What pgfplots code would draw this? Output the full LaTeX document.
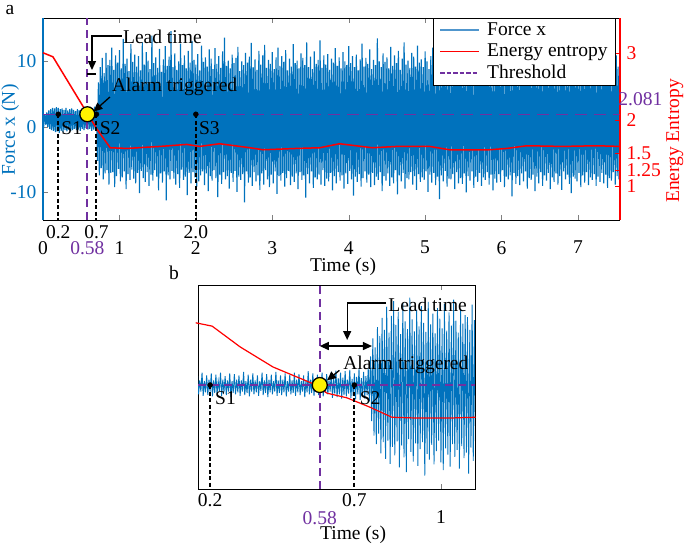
\documentclass[border=0pt]{standalone}
\usepackage{fontspec}
\setmainfont{Liberation Serif}
\usepackage{pgfplots}
\pgfplotsset{compat=1.18}
\usepackage{pgfplotstable}
\usetikzlibrary{arrows.meta}
\definecolor{mblue}{RGB}{0,114,189}
\definecolor{lblue}{RGB}{80,150,205}
\definecolor{mpurple}{RGB}{112,48,160}

% Force x, panel a (sampled every 0.0125 s from t = 0)
\pgfplotstableread[row sep=\\]{f\\
1.6\\ 0.5\\ 1.9\\ 0.3\\ 2.2\\ 0.0\\ 2.5\\ -0.3\\ 2.7\\ -0.5\\ 2.9\\ -0.6\\ 2.8\\ -0.8\\ 3.0\\ -0.7\\ 2.9\\ -0.9\\ 2.7\\ -0.6\\
2.8\\ -0.8\\ 2.6\\ -0.5\\ 2.9\\ -0.7\\ 2.5\\ -0.4\\ 2.7\\ -0.6\\ 2.8\\ -0.5\\ 2.6\\ -0.3\\ 2.4\\ -0.5\\ 2.7\\ -0.4\\ 2.5\\ -0.6\\
2.6\\ -0.3\\ 2.8\\ -0.5\\ 2.4\\ -0.2\\ 2.7\\ -0.4\\ 2.5\\ -0.3\\ 2.9\\ -0.6\\ 2.6\\ -0.4\\ 3.1\\ -0.5\\ 3.4\\
-5.2\\ 6.8\\ -7.4\\ 9.1\\ -6.3\\ 10.5\\ -8.0\\ 8.2\\ -7.1\\ 11.3\\ -6.6\\ 9.4\\ -8.8\\ 10.2\\ -7.0\\ 12.1\\ -6.9\\ 8.7\\ -9.2\\ 10.9\\
-7.5\\ 9.8\\ -6.4\\ 11.7\\ -8.3\\ 8.9\\ -7.7\\ 13.4\\ -6.8\\ 9.6\\ -9.5\\ 10.4\\ -7.2\\ 8.5\\ -8.1\\ 12.6\\ -6.5\\ 9.9\\ -7.9\\ 11.0\\
-8.6\\ 9.2\\ -7.0\\ 10.8\\ -10.1\\ 8.6\\ -6.7\\ 12.9\\ -7.8\\ 9.5\\ -8.4\\ 11.4\\ -6.9\\ 10.1\\ -9.0\\ 8.8\\ -7.3\\ 13.9\\ -8.2\\ 9.7\\
-6.6\\ 10.6\\ -7.6\\ 9.0\\ -9.7\\ 11.9\\ -7.1\\ 8.4\\ -8.5\\ 10.3\\ -6.8\\ 12.3\\ -11.2\\ 9.3\\ -7.4\\ 10.7\\ -8.0\\ 14.6\\ -6.7\\ 9.1\\
-7.9\\ 11.2\\ -8.8\\ 8.7\\ -7.2\\ 10.0\\ -9.3\\ 12.7\\ -6.5\\ 9.4\\ -8.1\\ 10.9\\ -7.6\\ 8.9\\ -10.4\\ 11.6\\ -7.0\\ 9.8\\ -8.6\\ 13.1\\
-6.9\\ 10.2\\ -7.7\\ 9.5\\ -9.1\\ 11.1\\ -8.3\\ 8.6\\ -7.4\\ 12.4\\ -6.8\\ 9.9\\ -8.9\\ 10.6\\ -7.1\\ 9.2\\ -9.8\\ 11.8\\ -7.5\\ 10.4\\
-8.2\\ 8.8\\ -6.6\\ 12.0\\ -7.8\\ 9.6\\ -10.7\\ 10.8\\ -7.3\\ 9.0\\ -8.7\\ 11.5\\ -6.9\\ 13.6\\ -8.0\\ 9.3\\ -7.5\\ 10.1\\ -9.4\\ 8.9\\
-7.0\\ 11.0\\ -8.4\\ 9.7\\ -6.7\\ 10.5\\ -9.9\\ 12.2\\ -7.6\\ 8.5\\ -8.1\\ 10.0\\ -7.2\\ 9.4\\ -11.5\\ 11.3\\ -6.8\\ 9.8\\ -8.5\\ 10.7\\
-7.7\\ 12.8\\ -9.0\\ 9.1\\ -6.9\\ 10.3\\ -8.3\\ 8.7\\ -7.4\\ 11.6\\ -9.6\\ 9.5\\ -7.1\\ 10.9\\ -8.8\\ 12.5\\ -6.6\\ 9.0\\ -8.0\\ 10.2\\
-9.2\\ 9.6\\ -7.3\\ 11.4\\ -8.6\\ 8.8\\ -6.8\\ 10.6\\ -10.2\\ 12.1\\ -7.5\\ 9.3\\ -8.2\\ 10.8\\ -7.0\\ 9.9\\ -9.1\\ 11.7\\ -7.8\\ 8.6\\
-6.7\\ 10.4\\ -8.9\\ 9.2\\ -7.6\\ 12.6\\ -8.4\\ 9.7\\ -7.1\\ 10.1\\ -9.5\\ 8.9\\ -6.9\\ 11.2\\ -8.1\\ 10.5\\ -7.4\\ 9.4\\ -10.8\\ 12.9\\
-7.2\\ 9.1\\ -8.6\\ 10.7\\ -6.8\\ 8.8\\ -9.3\\ 11.5\\ -7.7\\ 9.6\\ -8.0\\ 10.2\\ -7.3\\ 13.2\\ -8.8\\ 9.0\\ -6.6\\ 10.9\\ -9.0\\ 9.5\\
-7.9\\ 11.1\\ -8.3\\ 8.7\\ -7.0\\ 10.4\\ -9.7\\ 9.8\\ -7.5\\ 12.0\\ -8.6\\ 9.3\\ -6.9\\ 10.6\\ -8.2\\ 8.9\\ -7.4\\ 11.4\\ -9.4\\ 10.0\\
-7.1\\ 9.4\\ -8.7\\ 12.3\\ -6.7\\ 9.7\\ -8.0\\ 10.8\\ -10.5\\ 9.1\\ -7.6\\ 11.0\\ -8.4\\ 8.6\\ -7.2\\ 10.3\\ -9.1\\ 12.7\\ -7.8\\ 9.2\\
-6.8\\ 10.5\\ -8.5\\ 9.6\\ -7.3\\ 11.8\\ -9.2\\ 8.8\\ -7.0\\ 10.2\\ -8.9\\ 9.4\\ -7.6\\ 13.5\\ -8.1\\ 10.0\\ -6.9\\ 9.1\\ -9.8\\ 11.2\\
-7.5\\ 9.9\\ -8.2\\ 10.6\\ -7.1\\ 8.9\\ -9.0\\ 12.2\\ -7.7\\ 9.3\\ -8.6\\ 10.9\\ -6.6\\ 9.7\\ -10.3\\ 11.6\\ -7.4\\ 8.7\\ -8.3\\ 10.4\\
-7.0\\ 12.9\\ -9.4\\ 9.5\\ -7.8\\ 10.1\\ -8.0\\ 9.0\\ -6.9\\ 11.3\\ -8.8\\ 10.7\\ -7.5\\ 9.2\\ -9.6\\ 12.4\\ -7.2\\ 9.8\\ -8.4\\ 10.3\\
-7.7\\ 9.1\\ -8.1\\ 11.5\\ -6.8\\ 10.0\\ -9.9\\ 8.8\\ -7.3\\ 10.8\\ -8.5\\ 12.1\\ -7.0\\ 9.6\\ -8.9\\ 10.4\\ -7.6\\ 9.3\\ -11.0\\ 11.1\\
-7.4\\ 10.6\\ -8.3\\ 9.4\\ -6.7\\ 11.9\\ -9.1\\ 10.2\\ -7.9\\ 8.9\\ -8.0\\ 10.7\\ -7.2\\ 9.8\\ -9.5\\ 12.6\\ -6.9\\ 9.2\\ -8.6\\ 10.5\\
-7.8\\ 9.7\\ -8.7\\ 11.4\\ -7.1\\ 9.0\\ -10.0\\ 10.3\\ -7.5\\ 12.8\\ -8.2\\ 9.5\\ -6.8\\ 10.9\\ -9.3\\ 8.7\\ -7.6\\ 11.0\\ -8.4\\ 9.9\\
-7.0\\ 10.4\\ -9.0\\ 9.3\\ -7.7\\ 12.3\\ -8.1\\ 10.0\\ -6.9\\ 9.6\\ -8.8\\ 11.7\\ -7.3\\ 8.9\\ -9.7\\ 10.6\\ -7.9\\ 9.4\\ -8.5\\ 12.0\\
-7.2\\ 9.8\\ -8.4\\ 10.5\\ -6.6\\ 9.1\\ -9.2\\ 11.3\\ -7.6\\ 10.1\\ -8.0\\ 8.8\\ -7.4\\ 10.7\\ -10.6\\ 9.5\\ -7.0\\ 11.9\\ -8.7\\ 10.2\\
-7.5\\ 9.0\\ -8.9\\ 12.5\\ -7.1\\ 9.7\\ -8.3\\ 10.4\\ -6.8\\ 9.2\\ -9.4\\ 11.1\\ -7.8\\ 10.0\\ -8.1\\ 8.9\\ -7.3\\ 10.8\\ -9.8\\ 9.6\\
-7.6\\ 11.5\\ -8.6\\ 9.3\\ -6.9\\ 10.6\\ -9.0\\ 9.9\\ -7.4\\ 12.2\\ -8.2\\ 9.0\\ -7.0\\ 10.3\\ -9.5\\ 11.0\\ -7.7\\ 9.4\\ -8.4\\ 10.1\\
-7.1\\ 9.5\\ -8.8\\ 10.9\\ -7.5\\ 9.1\\ -9.6\\ 11.6\\ -6.8\\ 10.2\\ -8.0\\ 8.8\\ -7.3\\ 10.5\\ -8.7\\ 9.7\\ -10.1\\ 11.2\\ -7.6\\ 9.3\\
-7.9\\ 10.6\\ -8.3\\ 9.2\\ -7.0\\ 11.8\\ -9.2\\ 9.9\\ -7.4\\ 10.0\\ -8.5\\ 9.4\\ -6.9\\ 10.8\\ -8.9\\ 9.0\\ -7.7\\ 11.3\\ -8.1\\ 9.8\\
-7.2\\ 10.4\\ -9.0\\ 9.6\\ -7.6\\ 11.0\\ -8.4\\ 9.3\\
-7.0\\ 9.9\\ -8.6\\ 10.7\\ -7.3\\ 9.1\\ -9.3\\ 11.4\\ -7.8\\ 9.5\\ -8.2\\ 10.2\\ -6.9\\ 9.7\\ -8.8\\ 10.9\\ -7.5\\ 9.2\\ -8.0\\ 10.3\\
}\forceA

% Force x, panel b (sampled every 0.004 s from t = 0.156)
\pgfplotstableread[row sep=\\]{f\\
2.7\\ -0.2\\ 1.8\\ 0.2\\ 2.9\\ -0.4\\ 1.7\\ 0.1\\ 2.5\\ -0.3\\ 1.9\\ 0.2\\ 2.8\\ -0.5\\ 1.8\\ 0.0\\ 2.6\\ -0.2\\ 1.7\\ 0.3\\
2.9\\ -0.4\\ 1.9\\ 0.1\\ 2.4\\ -0.3\\ 1.8\\ 0.2\\ 2.8\\ -0.6\\ 1.7\\ 0.0\\ 2.7\\ -0.2\\ 1.9\\ 0.1\\ 2.5\\ -0.4\\ 1.8\\ 0.2\\
3.0\\ -0.3\\ 1.7\\ 0.0\\ 2.6\\ -0.5\\ 1.9\\ 0.2\\ 2.8\\ -0.2\\ 1.8\\ 0.1\\ 2.5\\ -0.4\\ 1.7\\ 0.3\\ 2.9\\ -0.3\\ 1.8\\ 0.0\\
2.7\\ -0.6\\ 1.9\\ 0.1\\ 2.6\\ -0.2\\ 1.7\\ 0.2\\ 3.0\\ -0.4\\ 1.8\\ 0.0\\ 2.5\\ -0.3\\ 1.9\\ 0.1\\ 2.8\\ -0.5\\ 1.7\\ 0.2\\
2.6\\ -0.2\\ 1.8\\ 0.0\\ 2.9\\ -0.4\\ 1.9\\ 0.1\\ 2.7\\ -0.3\\ 1.7\\ 0.2\\ 2.5\\ -0.6\\ 1.8\\ 0.1\\ 3.1\\ -0.2\\ 1.9\\ 0.0\\
2.8\\ -0.4\\ 1.7\\ 0.2\\ 2.6\\ -0.3\\ 1.8\\ 0.1\\ 2.9\\ -0.5\\ 1.9\\ 0.0\\ 2.7\\ -0.2\\ 1.8\\ 0.2\\ 3.0\\ -0.7\\ 2.0\\ -0.1\\
3.2\\ -0.6\\ 2.1\\ -0.2\\ 2.9\\ -0.8\\ 2.2\\ -0.3\\ 3.1\\ -0.5\\ 1.9\\ -0.1\\ 3.3\\ -0.7\\ 2.0\\ -0.4\\ 2.8\\ -0.9\\ 2.3\\ -0.2\\
3.4\\ -1.0\\ 2.1\\ -0.5\\ 3.0\\ -0.8\\ 2.4\\ -0.3\\ 3.5\\ -1.2\\
5.2\\ -4.0\\ 7.8\\ -6.1\\ 6.5\\ -7.3\\ 9.4\\ -5.8\\ 8.1\\ -8.6\\ 10.7\\ -7.0\\ 9.0\\ -9.4\\ 12.3\\ -6.8\\ 8.6\\ -10.1\\ 11.0\\ -7.7\\
13.1\\ -8.9\\ 9.7\\ -6.9\\ 11.6\\ -10.6\\ 8.4\\ -7.5\\ 12.8\\ -9.2\\ 10.2\\ -11.3\\ 9.1\\ -6.6\\ 13.6\\ -8.4\\ 10.5\\ -9.8\\ 8.8\\ -7.2\\
11.9\\ -10.4\\ 9.5\\ -8.0\\ 12.4\\ -7.0\\ 10.0\\ -11.8\\ 8.7\\ -8.7\\ 13.0\\ -9.5\\ 9.8\\ -7.4\\ 11.3\\ -10.2\\ 8.5\\ -8.3\\ 12.1\\ -6.8\\
10.6\\ -9.9\\ 9.2\\ -11.0\\ 12.7\\ -7.9\\ 8.9\\ -8.8\\ 11.5\\ -10.5\\ 9.6\\ -7.3\\ 13.3\\ -9.1\\ 10.3\\ -8.1\\ 8.6\\ -10.8\\ 12.0\\ -7.6\\
9.9\\ -9.3\\ 11.1\\ -8.5\\ 10.8\\ -11.5\\ 9.0\\ -7.8\\ 12.6\\ -9.7\\ 10.4\\ -8.9\\
}\forceB

% Energy entropy, panel a
\pgfplotstableread{
t v
0 3.00
0.13 2.94
0.55 2.15
0.71 1.85
0.88 1.58
1.10 1.57
1.53 1.60
1.88 1.63
2.05 1.60
2.31 1.64
2.71 1.58
2.88 1.55
3.32 1.57
3.62 1.58
3.88 1.64
4.31 1.58
4.63 1.60
5.06 1.60
5.32 1.55
5.84 1.55
6.07 1.57
6.33 1.61
6.80 1.60
7.24 1.61
7.55 1.60
}\entA

% Energy entropy, panel b
\pgfplotstableread{
t v
0.150 3.01
0.207 2.96
0.304 2.65
0.418 2.35
0.557 2.10
0.605 1.96
0.674 1.89
0.754 1.75
0.830 1.60
0.903 1.59
1.042 1.59
1.120 1.60
}\entB

\pgfplotsset{
  every axis/.append style={scale only axis, tick align=inside, major tick length=5pt,
    /pgf/number format/assume math mode=true},
}
\tikzset{arr/.style={line width=1.3pt, -{Triangle[length=9pt,width=8pt]}}}

\begin{document}
\fontsize{19.5}{23}\selectfont
\begin{tikzpicture}
\useasboundingbox (0pt,0pt) rectangle (685pt,-545pt);

% ---------------- Panel a: force axis
\begin{axis}[
  at={(43pt,-18pt)}, anchor=north west, width=577pt, height=202pt,
  xmin=0, xmax=7.55, ymin=-14.2, ymax=16.6,
  axis x line=box, axis y line*=left,
  x axis line style={black, line width=0.8pt},
  y axis line style={mblue, line width=2.5pt},
  xtick={0,1,2,3,4,5,6,7}, xticklabel style={inner ysep=0pt, yshift=-21pt},
  ytick={-10,0,10}, yticklabels={-10,0,10}, yticklabel style={text=mblue},
  ylabel={Force x (N)}, ylabel style={text=mblue, at={(axis description cs:-0.057,0.446)}, anchor=center},
  xlabel={Time (s)}, xlabel style={inner sep=0pt, at={(axis description cs:0.52,-0.232)}, anchor=center},
]
\addplot[mblue, line width=1.15pt] table[x expr=\coordindex*0.0125, y=f]{\forceA};
\end{axis}

% ---------------- Panel a: entropy axis
\begin{axis}[
  at={(43pt,-18pt)}, anchor=north west, width=577pt, height=202pt,
  xmin=0, xmax=7.55, ymin=0.5, ymax=3.52,
  axis x line=none, axis y line*=right,
  y axis line style={red, line width=1.2pt},
  tick style={red},
  ytick={1,1.25,1.5,2,3}, yticklabels={1,1.25,1.5,2,3}, yticklabel style={text=red, inner ysep=0pt},
  ylabel={Energy Entropy}, ylabel style={text=red, at={(axis description cs:1.095,0.391)}, anchor=center},
  clip=false,
  legend style={at={(1,1)}, anchor=north east, xshift=-4pt, draw=black, line width=0.8pt, fill=white,
    inner xsep=6pt, inner ysep=2pt, row sep=1.5pt},
  legend cell align=left,
]
\addlegendimage{legend image code/.code={\draw[draw=lblue, line width=1.6pt] (0pt,0pt) -- (39pt,0pt); \path[draw=none] (0pt,0pt) -- (45pt,0pt);}}
\addlegendentry{Force x}
\addlegendimage{legend image code/.code={\draw[draw=red, line width=1.6pt] (0pt,0pt) -- (39pt,0pt); \path[draw=none] (0pt,0pt) -- (45pt,0pt);}}
\addlegendentry{Energy entropy}
\addlegendimage{legend image code/.code={\draw[draw=mpurple, line width=2pt, dash pattern=on 4.5pt off 2pt] (0pt,0pt) -- (39pt,0pt); \path[draw=none] (0pt,0pt) -- (45pt,0pt);}}
\addlegendentry{Threshold}
\addplot[mpurple, line width=1.2pt, dash pattern=on 12pt off 7pt, forget plot] coordinates {(0,2.081) (7.55,2.081)};
\addplot[red, line width=1.5pt, forget plot] table[x=t, y=v]{\entA};
\addplot[mpurple, line width=2.2pt, dash pattern=on 8pt off 5pt, forget plot] coordinates {(0.58,0.5) (0.58,3.52)};
\addplot[black, line width=2pt, dash pattern=on 4pt off 2.5pt, forget plot] coordinates {(0.2,2.081) (0.2,0.5)};
\addplot[black, line width=2pt, dash pattern=on 4pt off 2.5pt, forget plot] coordinates {(0.7,2.081) (0.7,0.5)};
\addplot[black, line width=2pt, dash pattern=on 4pt off 2.5pt, forget plot] coordinates {(2.0,2.081) (2.0,0.5)};
\addplot[only marks, mark=*, mark size=2.5pt, black, forget plot] coordinates {(0.2,2.081) (0.7,2.081) (2.0,2.081)};
\addplot[only marks, mark=*, mark size=7.5pt, mark options={fill=yellow, draw=black, line width=1.3pt}, forget plot] coordinates {(0.58,2.081)};
% annotations
\node[anchor=west, inner sep=0pt] at (axis cs:1.046,3.235) {Lead time};
\draw[arr] (axis cs:1.033,3.25) -- (axis cs:0.641,3.25) -- (axis cs:0.641,2.742);
\draw[line width=2pt] (axis cs:0.58,2.682) -- (axis cs:0.70,2.682);
\node[anchor=west, inner sep=0pt] at (axis cs:0.902,2.488) {Alarm triggered};
\draw[arr] (axis cs:0.876,2.339) -- (axis cs:0.66,2.12);
\node[anchor=west, inner sep=0pt] at (axis cs:0.239,1.875) {S1};
\node[anchor=west, inner sep=0pt] at (axis cs:0.74,1.875) {S2};
\node[anchor=west, inner sep=0pt] at (axis cs:2.04,1.875) {S3};
\node[inner sep=0pt] at (axis cs:0.2,0.321) {0.2};
\node[inner sep=0pt] at (axis cs:0.7,0.321) {0.7};
\node[inner sep=0pt] at (axis cs:2.0,0.321) {2.0};
\node[inner sep=0pt, text=mpurple] at (axis cs:0.58,0.078) {0.58};
\node[inner sep=0pt, text=mpurple] at (axis cs:7.817,2.309) {2.081};
\end{axis}

% ---------------- Panel b: force axis
\begin{axis}[
  at={(198pt,-285pt)}, anchor=north west, width=277pt, height=204pt,
  xmin=0.158, xmax=1.118, ymin=-13.7, ymax=15.4,
  axis line style={line width=0.8pt},
  xtick={1}, ytick=\empty, xticklabel style={inner ysep=0pt, yshift=-21.5pt},
  xlabel={Time (s)}, xlabel style={inner sep=0pt, at={(axis description cs:0.56,-0.225)}, anchor=center},
]
\addplot[mblue, line width=0.9pt] table[x expr=0.156+\coordindex*0.004, y=f]{\forceB};
\end{axis}

% ---------------- Panel b: entropy axis
\begin{axis}[
  at={(198pt,-285pt)}, anchor=north west, width=277pt, height=204pt,
  xmin=0.158, xmax=1.118, ymin=0.529, ymax=3.574,
  hide axis, clip=false,
]
\addplot[mpurple, line width=1.2pt, dash pattern=on 8pt off 5pt] coordinates {(0.158,2.081) (1.118,2.081)};
\addplot[red, line width=1.2pt] table[x=t, y=v]{\entB};
\addplot[mpurple, line width=2.5pt, dash pattern=on 8pt off 5pt] coordinates {(0.58,0.529) (0.58,3.574)};
\addplot[black, line width=2.2pt, dash pattern=on 4pt off 2.5pt] coordinates {(0.2,2.081) (0.2,0.529)};
\addplot[black, line width=2.2pt, dash pattern=on 4pt off 2.5pt] coordinates {(0.7,2.081) (0.7,0.529)};
\addplot[only marks, mark=*, mark size=2.5pt, black] coordinates {(0.2,2.081) (0.7,2.081)};
\addplot[only marks, mark=*, mark size=7.5pt, mark options={fill=yellow, draw=black, line width=1.3pt}] coordinates {(0.58,2.081)};
\node[anchor=west, inner sep=0pt] at (axis cs:0.817,3.275) {Lead time};
\draw[arr] (axis cs:0.81,3.305) -- (axis cs:0.675,3.305) -- (axis cs:0.675,2.753);
\draw[line width=1.3pt, {Triangle[length=9pt,width=8pt]}-{Triangle[length=9pt,width=8pt]}] (axis cs:0.58,2.663) -- (axis cs:0.761,2.663);
\node[anchor=west, inner sep=0pt] at (axis cs:0.661,2.38) {Alarm triggered};
\draw[arr] (axis cs:0.648,2.30) -- (axis cs:0.605,2.15);
\node[anchor=west, inner sep=0pt] at (axis cs:0.217,1.887) {S1};
\node[anchor=west, inner sep=0pt] at (axis cs:0.718,1.887) {S2};
\node[inner sep=0pt] at (axis cs:0.2,0.365) {0.2};
\node[inner sep=0pt] at (axis cs:0.7,0.365) {0.7};
\node[inner sep=0pt, text=mpurple] at (axis cs:0.58,0.096) {0.58};
\end{axis}

\node[inner sep=0pt] at (10pt,-10.5pt) {a};
\node[inner sep=0pt] at (174pt,-273pt) {b};
\end{tikzpicture}
\end{document}
